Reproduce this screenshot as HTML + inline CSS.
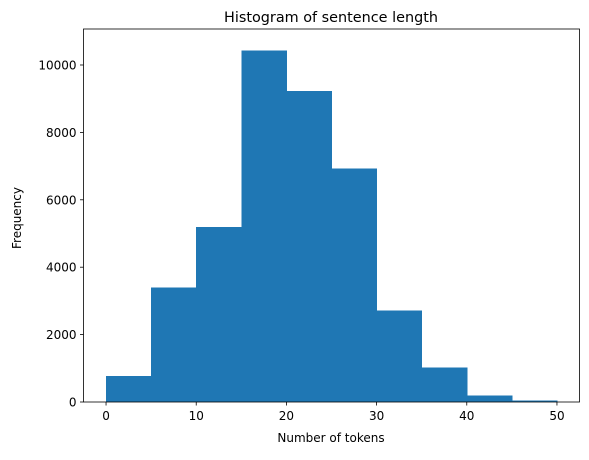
<!DOCTYPE html>
<html><head><meta charset="utf-8"><style>
body{margin:0;background:#fff;font-family:"Liberation Sans","DejaVu Sans",sans-serif}
text{font-family:"DejaVu Sans","Liberation Sans",sans-serif;fill:#000}
</style></head><body>
<svg id="chart" width="589" height="455" xmlns="http://www.w3.org/2000/svg">
<rect width="589" height="455" fill="#fff"/>
<g id="bars" shape-rendering="crispEdges"></g>
<g id="axes"></g>
<text x="331" y="22" font-size="14.4" text-anchor="middle">Histogram of sentence length</text>
<text x="331" y="442" font-size="12" text-anchor="middle">Number of tokens</text>
<text x="0" y="0" font-size="12" text-anchor="middle" transform="translate(21,218) rotate(-90)">Frequency</text>
</svg>
<script>
const binEdges=[0,5,10,15,20,25,30,35,40,45,50];
const counts=[770,3400,5200,10430,9230,6930,2710,1030,200,40];
const xTicks=[0,10,20,30,40,50];
const yTicks=[0,2000,4000,6000,8000,10000];
const L=83.5,R=579.5,T=29,B=402;
const xMin=-2.5,xMax=52.5,yMax=11068;
const sx=v=>L+(v-xMin)/(xMax-xMin)*(R-L);
const sy=v=>B-v/yMax*(B-T);
const NS="http://www.w3.org/2000/svg";
const bars=document.getElementById('bars'),axes=document.getElementById('axes');
counts.forEach((c,i)=>{
 const r=document.createElementNS(NS,'rect');
 const x0=sx(binEdges[i]),x1=sx(binEdges[i+1]);
 r.setAttribute('x',x0);r.setAttribute('width',x1-x0+0.5);
 r.setAttribute('y',sy(c));r.setAttribute('height',B-sy(c));
 r.setAttribute('fill','#1f77b4');
 
 
 bars.appendChild(r);
});
const frame=document.createElementNS(NS,'rect');
frame.setAttribute('x',L);frame.setAttribute('y',T);frame.setAttribute('width',R-L);frame.setAttribute('height',B-T);
frame.setAttribute('fill','none');frame.setAttribute('stroke','#000');frame.setAttribute('stroke-width','0.8');


axes.appendChild(frame);
xTicks.forEach(t=>{
 const x=sx(t);
 const l=document.createElementNS(NS,'line');
 l.setAttribute('x1',x);l.setAttribute('x2',x);l.setAttribute('y1',B);l.setAttribute('y2',B+3.5);l.setAttribute('stroke','#000');l.setAttribute('stroke-width','0.8');
 
 
 axes.appendChild(l);
 const tx=document.createElementNS(NS,'text');
 tx.setAttribute('x',x);tx.setAttribute('y',B+18);tx.setAttribute('font-size','12');tx.setAttribute('text-anchor','middle');tx.textContent=t;
 
 
 axes.appendChild(tx);
});
yTicks.forEach(t=>{
 const y=sy(t);
 const l=document.createElementNS(NS,'line');
 l.setAttribute('x1',L-3.5);l.setAttribute('x2',L);l.setAttribute('y1',y);l.setAttribute('y2',y);l.setAttribute('stroke','#000');l.setAttribute('stroke-width','0.8');
 
 
 axes.appendChild(l);
 const tx=document.createElementNS(NS,'text');
 tx.setAttribute('x',L-7);tx.setAttribute('y',y+4.5);tx.setAttribute('font-size','12');tx.setAttribute('text-anchor','end');tx.textContent=t;
 
 
 axes.appendChild(tx);
});
</script>
</body></html>
